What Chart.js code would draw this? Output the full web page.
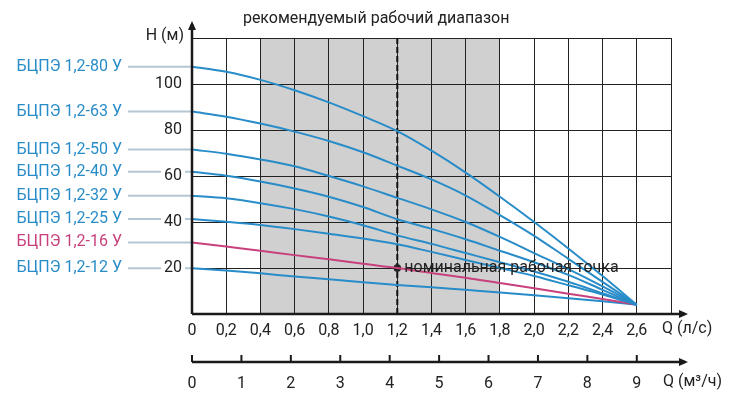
<!DOCTYPE html>
<html>
<head>
<meta charset="utf-8">
<script src="https://cdn.jsdelivr.net/npm/chart.js@4.4.1/dist/chart.umd.min.js"></script>
<style>
body { margin: 0; background: #fff; }
#wrap { width: 730px; height: 406px; }
</style>
</head>
<body>
<div id="wrap"><canvas id="h-chart" width="730" height="406"></canvas></div>
<script>
// расход, л/с
const qFlow = [0, 0.2, 0.4, 0.6, 0.8, 1.0, 1.2, 1.4, 1.6, 1.8, 2.0, 2.2, 2.4, 2.6]

// напор, м
const h80 = [107.5, 105.3, 101.8, 97.3, 92, 86, 79.5, 71, 61.5, 51, 40, 28.5, 16.5, 4]
const h63 = [88, 85.8, 82.8, 79.3, 75.2, 70.3, 64.5, 58.5, 51.5, 43, 34, 24, 14, 4]
const h50 = [71.5, 69.7, 67.2, 64.2, 60, 55.5, 50.5, 45.5, 40, 33.5, 26.5, 19.5, 12, 4]
const h40 = [61.8, 60.1, 57.6, 54.6, 51, 46.5, 41.2, 37, 32.5, 27.5, 22.5, 17, 10.5, 4]
const h32 = [51.4, 50.3, 48.2, 45.6, 42.4, 38.6, 34.2, 30.5, 26.5, 22.5, 18.5, 14, 9, 4]
const h25 = [41.3, 40.1, 38.7, 36.9, 34.9, 32.8, 30.3, 27, 23.5, 20, 16.5, 12.5, 8.5, 4]
const h16 = [31.1, 29.3, 27.5, 25.6, 23.8, 21.8, 20, 17.8, 15.8, 13.5, 11.2, 8.8, 6.5, 4]
const h12 = [19.9, 18.9, 17.7, 16.3, 15.1, 13.8, 12.6, 11.6, 10.5, 9.4, 8.2, 6.9, 5.5, 4]

const pumpNames = ['БЦПЭ 1,2-80 У', 'БЦПЭ 1,2-63 У', 'БЦПЭ 1,2-50 У', 'БЦПЭ 1,2-40 У',
    'БЦПЭ 1,2-32 У', 'БЦПЭ 1,2-25 У', 'БЦПЭ 1,2-16 У', 'БЦПЭ 1,2-12 У']
const pumpHeads = [h80, h63, h50, h40, h32, h25, h16, h12]

const qLsTicks = [0, 0.2, 0.4, 0.6, 0.8, 1.0, 1.2, 1.4, 1.6, 1.8, 2.0, 2.2, 2.4, 2.6, 2.8]
const qLsLabels = ['0', '0,2', '0,4', '0,6', '0,8', '1,0', '1,2', '1,4', '1,6', '1,8', '2,0', '2,2', '2,4', '2,6', '']
const qM3Ticks = [0, 1, 2, 3, 4, 5, 6, 7, 8, 9]
const hTicks = [0, 20, 40, 60, 80, 100, 120]
const hLabels = ['', '20', '40', '60', '80', '100', '']

const workRange = [0.4, 1.8]
const nominalPoint = [1.2, 20]

const blue = '#288cc8'
const pink = '#c8417c'
const font = 'Roboto'

const ctxChart = document.querySelector('#h-chart').getContext('2d')

const datasets = pumpHeads.map((h, i) => ({
    label: pumpNames[i],
    data: qFlow.map((q, k) => ({ x: q, y: h[k] })),
    borderColor: pumpNames[i].includes('-16') ? pink : blue,
    borderWidth: 2,
    pointRadius: 0,
    cubicInterpolationMode: 'monotone',
    xAxisID: 'x',
    yAxisID: 'y',
}))
datasets.push({
    label: 'номинальная рабочая точка',
    type: 'scatter',
    data: [{ x: nominalPoint[0], y: nominalPoint[1] }],
    pointRadius: 3.5,
    backgroundColor: '#222',
    borderColor: '#222',
    xAxisID: 'x',
    yAxisID: 'y',
})

function arrow(c, x, y, dir) {
    c.beginPath()
    if (dir === 'right') {
        c.moveTo(x, y); c.lineTo(x - 9, y - 4); c.lineTo(x - 9, y + 4)
    } else {
        c.moveTo(x, y); c.lineTo(x - 4, y + 9); c.lineTo(x + 4, y + 9)
    }
    c.closePath()
    c.fill()
}

const decor = {
    id: 'decor',
    beforeDraw(chart) {
        const c = chart.ctx
        const a = chart.chartArea
        const xs = chart.scales.x
        const ys = chart.scales.y
        c.save()
        // рекомендуемый диапазон
        c.fillStyle = '#d0d0d0'
        const x0 = xs.getPixelForValue(workRange[0])
        const x1 = xs.getPixelForValue(workRange[1])
        c.fillRect(x0, a.top, x1 - x0, a.bottom - a.top)

        // выноски и подписи насосов
        c.font = '16px ' + font
        c.textAlign = 'right'
        c.textBaseline = 'middle'
        pumpHeads.forEach((h, i) => {
            const y = ys.getPixelForValue(h[0])
            c.strokeStyle = '#b3c7d4'
            c.lineWidth = 2
            c.beginPath()
            c.moveTo(a.left - 64, y)
            c.lineTo(a.left, y)
            c.stroke()
            c.fillStyle = pumpNames[i].includes('-16') ? pink : blue
            c.fillText(pumpNames[i], a.left - 70, y)
        })

        c.fillStyle = '#222'
        c.font = '16px ' + font
        c.textAlign = 'center'
        c.fillText('рекомендуемый рабочий диапазон', (x0 + x1) / 2 - 4, a.top - 19)
        c.restore()
    },
    beforeDatasetsDraw(chart) {
        const c = chart.ctx
        const a = chart.chartArea
        const x = chart.scales.x.getPixelForValue(nominalPoint[0])
        c.save()
        c.strokeStyle = '#111'
        c.lineWidth = 2
        c.setLineDash([6, 3])
        c.beginPath()
        c.moveTo(x, a.top)
        c.lineTo(x, a.bottom)
        c.stroke()
        c.restore()
    },
    afterDatasetsDraw(chart) {
        const c = chart.ctx
        const a = chart.chartArea
        const xs = chart.scales.x
        const ys = chart.scales.y
        c.save()
        c.strokeStyle = '#1a1a1a'
        c.fillStyle = '#1a1a1a'
        c.lineWidth = 2.5
        c.beginPath()
        c.moveTo(a.left, a.bottom)
        c.lineTo(a.right + 14, a.bottom)
        c.moveTo(a.left, a.bottom)
        c.lineTo(a.left, a.top - 14)
        c.stroke()
        arrow(c, a.right + 17, a.bottom, 'right')
        arrow(c, a.left, a.top - 17, 'up')

        c.font = '16px ' + font
        c.textBaseline = 'middle'
        c.textAlign = 'right'
        c.fillStyle = '#222'
        c.fillText('H (м)', a.left - 8, a.top - 2)
        c.textAlign = 'left'
        c.fillText('номинальная рабочая точка', xs.getPixelForValue(nominalPoint[0]) + 7, ys.getPixelForValue(nominalPoint[1]))
        c.restore()
    },
    afterDraw(chart) {
        const c = chart.ctx
        const a = chart.chartArea
        const s2 = chart.scales.x2
        const xs = chart.scales.x
        const y2 = s2.top
        c.save()
        c.strokeStyle = '#1a1a1a'
        c.fillStyle = '#1a1a1a'
        c.lineWidth = 2.5
        c.beginPath()
        c.moveTo(a.left, y2)
        c.lineTo(a.right + 14, y2)
        c.stroke()
        arrow(c, a.right + 17, y2, 'right')
        c.lineWidth = 2
        qM3Ticks.forEach(v => {
            const px = s2.getPixelForValue(v)
            c.beginPath()
            c.moveTo(px, y2)
            c.lineTo(px, y2 - 7)
            c.stroke()
        })
        c.font = '16px ' + font
        c.fillStyle = '#222'
        c.textAlign = 'left'
        c.textBaseline = 'middle'
        c.fillText('Q (л/с)', a.right - 9, xs.top + 15)
        c.fillText('Q (м³/ч)', a.right - 8, y2 + 20)
        c.restore()
    }
}

const hChart = new Chart(ctxChart, {
    type: 'line',
    data: { datasets: datasets },
    options: {
        responsive: false,
        animation: false,
        devicePixelRatio: 1,
        layout: { padding: { left: 152, right: 59, top: 38, bottom: 14 } },
        plugins: { legend: { display: false }, tooltip: { enabled: false } },
        scales: {
            x: {
                type: 'linear',
                position: 'bottom',
                min: 0,
                max: qLsTicks[qLsTicks.length - 1],
                weight: 0,
                afterBuildTicks: s => { s.ticks = qLsTicks.map(v => ({ value: v })) },
                afterFit: s => { s.height = 48 },
                grid: { color: '#222', lineWidth: 1, drawTicks: false },
                border: { display: false },
                ticks: {
                    autoSkip: false,
                    maxRotation: 0,
                    padding: 7,
                    color: '#222',
                    font: { family: font, size: 16 },
                    callback: (v, i) => qLsLabels[i],
                },
            },
            x2: {
                type: 'linear',
                position: 'bottom',
                min: 0,
                max: qM3Ticks[qM3Ticks.length - 1] * qLsTicks[qLsTicks.length - 1] / qLsTicks[qLsTicks.length - 2],
                weight: 1,
                afterBuildTicks: s => { s.ticks = qM3Ticks.map(v => ({ value: v })) },
                afterFit: s => { s.height = 30 },
                grid: { display: false, drawTicks: false },
                border: { display: false },
                ticks: {
                    autoSkip: false,
                    maxRotation: 0,
                    padding: 12,
                    color: '#222',
                    font: { family: font, size: 16 },
                    callback: v => String(v),
                },
            },
            y: {
                type: 'linear',
                min: 0,
                max: hTicks[hTicks.length - 1],
                afterBuildTicks: s => { s.ticks = hTicks.map(v => ({ value: v })) },
                afterFit: s => { s.width = 40 },
                grid: { color: '#222', lineWidth: 1, drawTicks: false },
                border: { display: false },
                ticks: {
                    padding: 10,
                    color: '#222',
                    font: { family: font, size: 16 },
                    showLabelBackdrop: true,
                    backdropColor: '#fff',
                    backdropPadding: { left: 3, right: 3, top: 0, bottom: 0 },
                    callback: (v, i) => hLabels[i],
                },
            },
        },
    },
    plugins: [decor],
})
</script>
</body>
</html>
